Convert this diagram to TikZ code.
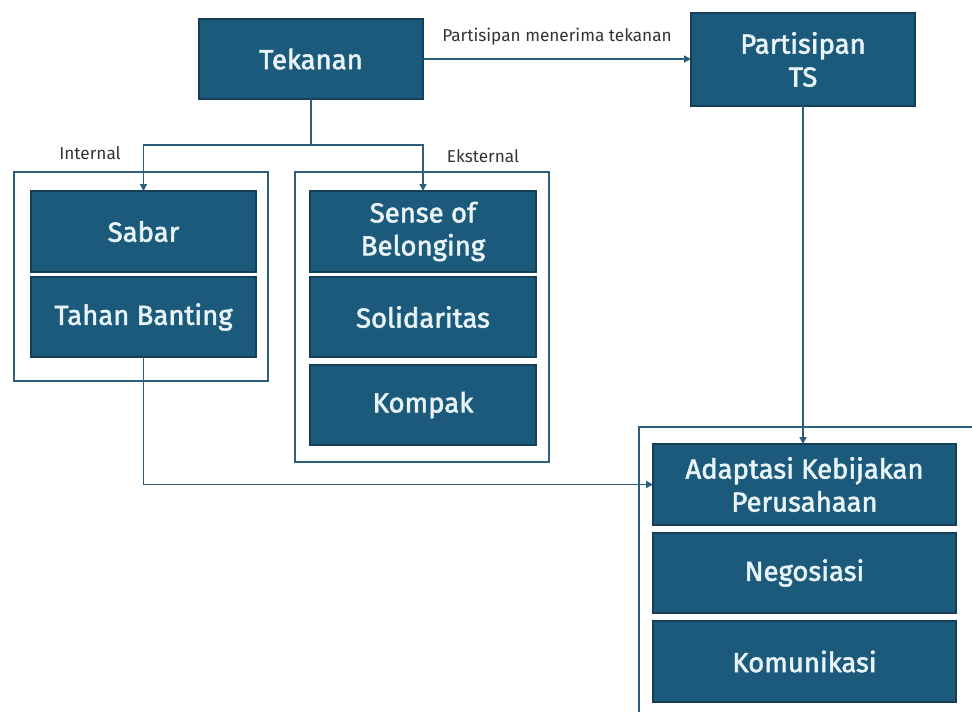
\documentclass[tikz,border=0pt]{standalone}
\usepackage{fontspec}
\setmainfont{Fira Sans}
\newfontfamily\boxfont{Fira Sans}[FakeBold=2]
\usetikzlibrary{arrows.meta}
\definecolor{boxfill}{HTML}{1C5A7C}
\definecolor{boxedge}{HTML}{143F57}
\definecolor{boxtext}{HTML}{E8F4F8}
\definecolor{linecol}{HTML}{2E5E7E}
\tikzset{
  box/.style={draw=boxedge, line width=1.2pt, fill=boxfill, text=boxtext, inner sep=0pt, outer sep=0pt,
    align=center, font=\boxfont\fontsize{27.5}{33}\selectfont},
  frame/.style={draw=linecol, line width=2pt},
  conn/.style={draw=linecol, line width=1.5pt},
  arr/.style={conn, -{Triangle[length=7pt,width=7pt]}},
  lbl/.style={text=black!80, font=\fontsize{17.2}{19}\selectfont, inner sep=0pt}
}
\begin{document}
\begin{tikzpicture}[x=1pt,y=-1pt]
\useasboundingbox (0,0) rectangle (972,712);
% containers
\draw[frame] (14,172) rectangle (268,381);
\draw[frame] (295,172) rectangle (549,462);
\draw[frame] (639,712) -- (639,427) -- (972,427);
% boxes
\node[box, minimum width=224pt, minimum height=80pt] (tek) at (311,59) {Tekanan};
\node[box, minimum width=224pt, minimum height=93pt] (pts) at (803,59.5) {Partisipan\\TS};
\node[box, minimum width=225pt, minimum height=81pt] (sabar) at (143.5,231.5) {Sabar};
\node[box, minimum width=225pt, minimum height=80pt] (tahan) at (143.5,317) {Tahan Banting};
\node[box, minimum width=226pt, minimum height=81pt] (sense) at (423,231.5) {Sense of\\Belonging};
\node[box, minimum width=226pt, minimum height=80pt] (soli) at (423,317) {Solidaritas};
\node[box, minimum width=226pt, minimum height=80pt] (kompak) at (423,405) {Kompak};
\node[box, minimum width=303pt, minimum height=81pt] (adapt) at (804.5,484.5) {Adaptasi Kebijakan\\Perusahaan};
\node[box, minimum width=303pt, minimum height=80pt] (nego) at (804.5,573) {Negosiasi};
\node[box, minimum width=303pt, minimum height=81pt] (komu) at (804.5,661.5) {Komunikasi};
% labels
\node[lbl] (lint) at (90,153) {Internal};
\node[lbl] (leks) at (483,156) {Eksternal};
\node[lbl] (lpart) at (557,37) {Partisipan menerima tekanan};
% connectors
\coordinate (split) at (311,145);
\draw[arr] (tek.east) -- (tek.east -| pts.west);
\draw[conn] (tek.south) -- (split);
\draw[arr] (split) -| (sabar.north);
\draw[arr] (split) -| (sense.north);
\draw[arr] (tahan.south) |- (adapt.west);
\draw[arr] (pts.south) -- (pts.south |- adapt.north);
\end{tikzpicture}
\end{document}
